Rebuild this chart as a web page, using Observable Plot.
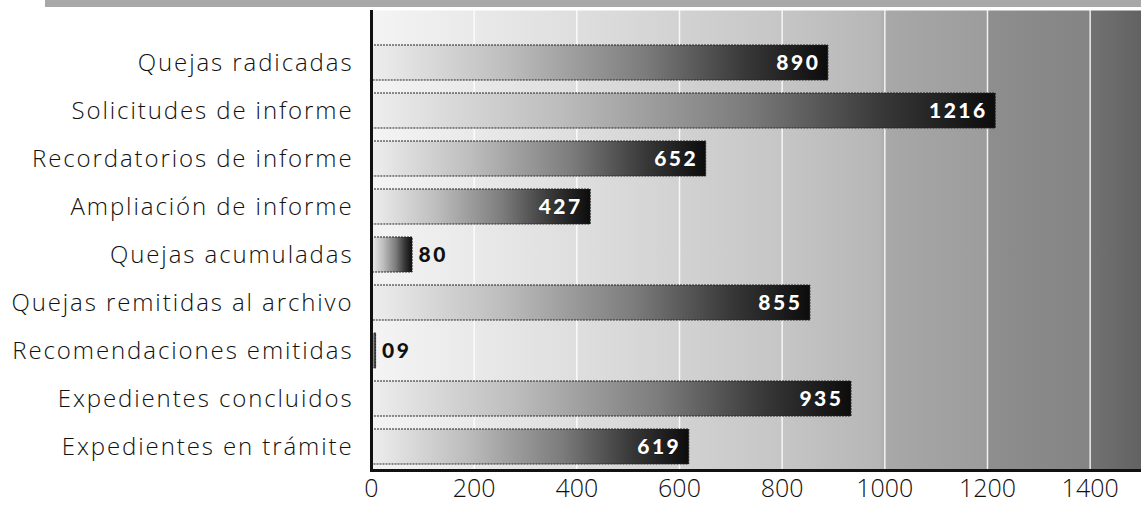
<!DOCTYPE html>
<html>
<head>
<meta charset="utf-8">
<script src="https://cdn.jsdelivr.net/npm/d3@7"></script>
<script src="https://cdn.jsdelivr.net/npm/@observablehq/plot@0.6"></script>
<style>
  html, body { margin: 0; padding: 0; background: #ffffff; }
  #chart svg { display: block; }
</style>
</head>
<body>
<div id="chart"></div>
<script>
const categories = [
  "Quejas radicadas",
  "Solicitudes de informe",
  "Recordatorios de informe",
  "Ampliación de informe",
  "Quejas acumuladas",
  "Quejas remitidas al archivo",
  "Recomendaciones emitidas",
  "Expedientes concluidos",
  "Expedientes en trámite"
];
const values = [890, 1216, 652, 427, 80, 855, 9, 935, 619];
const valueLabels = ["890", "1216", "652", "427", "80", "855", "09", "935", "619"];
const xTicks = [0, 200, 400, 600, 800, 1000, 1200, 1400];
const xMax = 1500;

const data = categories.map((c, i) => ({category: c, value: values[i], label: valueLabels[i]}));
const inside = data.filter(d => d.value >= 100);
const outside = data.filter(d => d.value < 100);

const chart = Plot.plot({
  width: 1141,
  height: 505,
  marginLeft: 371,
  marginRight: 0,
  marginTop: 10,
  marginBottom: 35,
  style: {background: "transparent", fontFamily: "'Open Sans', sans-serif", color: "#111"},
  x: {domain: [0, xMax], label: null},
  y: {domain: categories, range: [36, 473], paddingInner: 0.27, paddingOuter: 0.135, label: null},
  marks: [
    Plot.frame({fill: "url(#bgGrad)", stroke: null}),
    Plot.ruleX(xTicks.slice(1), {stroke: "white", strokeWidth: 1.5, strokeOpacity: 0.85}),
    Plot.barX(data, {x: "value", y: "category", fill: "url(#barGrad)", stroke: "#222", strokeWidth: 1, strokeDasharray: "2,1"}),
    Plot.text(inside, {x: "value", y: "category", text: "label", textAnchor: "end", dx: -8, fill: "white",
      fontWeight: 900, fontSize: 21, fontFamily: "Lato, sans-serif", stroke: "#111", strokeWidth: 0.5}),
    Plot.text(outside, {x: "value", y: "category", text: "label", textAnchor: "start", dx: 6, fill: "#111",
      fontWeight: 900, fontSize: 21, fontFamily: "Lato, sans-serif"}),
    Plot.ruleX([0], {stroke: "#111", strokeWidth: 3}),
    Plot.frame({anchor: "bottom", stroke: "#111", strokeWidth: 3}),
    Plot.axisX({ticks: xTicks, tickSize: 0, tickPadding: 9, fontSize: 25, fontWeight: 300, tickFormat: "d", label: null}),
    Plot.axisY({tickSize: 0, tickPadding: 18, fontSize: 24, fontWeight: 300, label: null})
  ]
});

const svg = d3.select(chart);
const defs = svg.insert("defs", ":first-child");
const bg = defs.append("linearGradient").attr("id", "bgGrad").attr("x1", 0).attr("x2", 1).attr("y1", 0).attr("y2", 0);
[[0, "#f4f4f4"], [0.27, "#dedede"], [0.53, "#c6c6c6"], [0.66, "#b6b6b6"], [0.67, "#a8a8a8"], [0.8, "#9c9c9c"],
 [0.801, "#8e8e8e"], [0.933, "#848484"], [0.934, "#727272"], [1, "#626262"]]
  .forEach(([o, c]) => bg.append("stop").attr("offset", o).attr("stop-color", c));
const bar = defs.append("linearGradient").attr("id", "barGrad").attr("x1", 0).attr("x2", 1).attr("y1", 0).attr("y2", 0);
[[0, "#eeeeee"], [0.3, "#bdbdbd"], [0.6, "#7c7c7c"], [0.82, "#383838"], [1, "#0c0c0c"]]
  .forEach(([o, c]) => bar.append("stop").attr("offset", o).attr("stop-color", c));

// letter spacing to approximate the wide geometric typeface of the original
svg.selectAll("g[aria-label='y-axis tick label'] text").style("letter-spacing", "1.9px");
svg.selectAll("g[aria-label='text'] text").style("letter-spacing", "2.5px");

// decorative top strip
svg.append("rect").attr("x", 45).attr("y", 0).attr("width", 1141 - 45).attr("height", 7)
  .attr("fill", "#a8a8a8");

document.getElementById("chart").appendChild(chart);
</script>
</body>
</html>
